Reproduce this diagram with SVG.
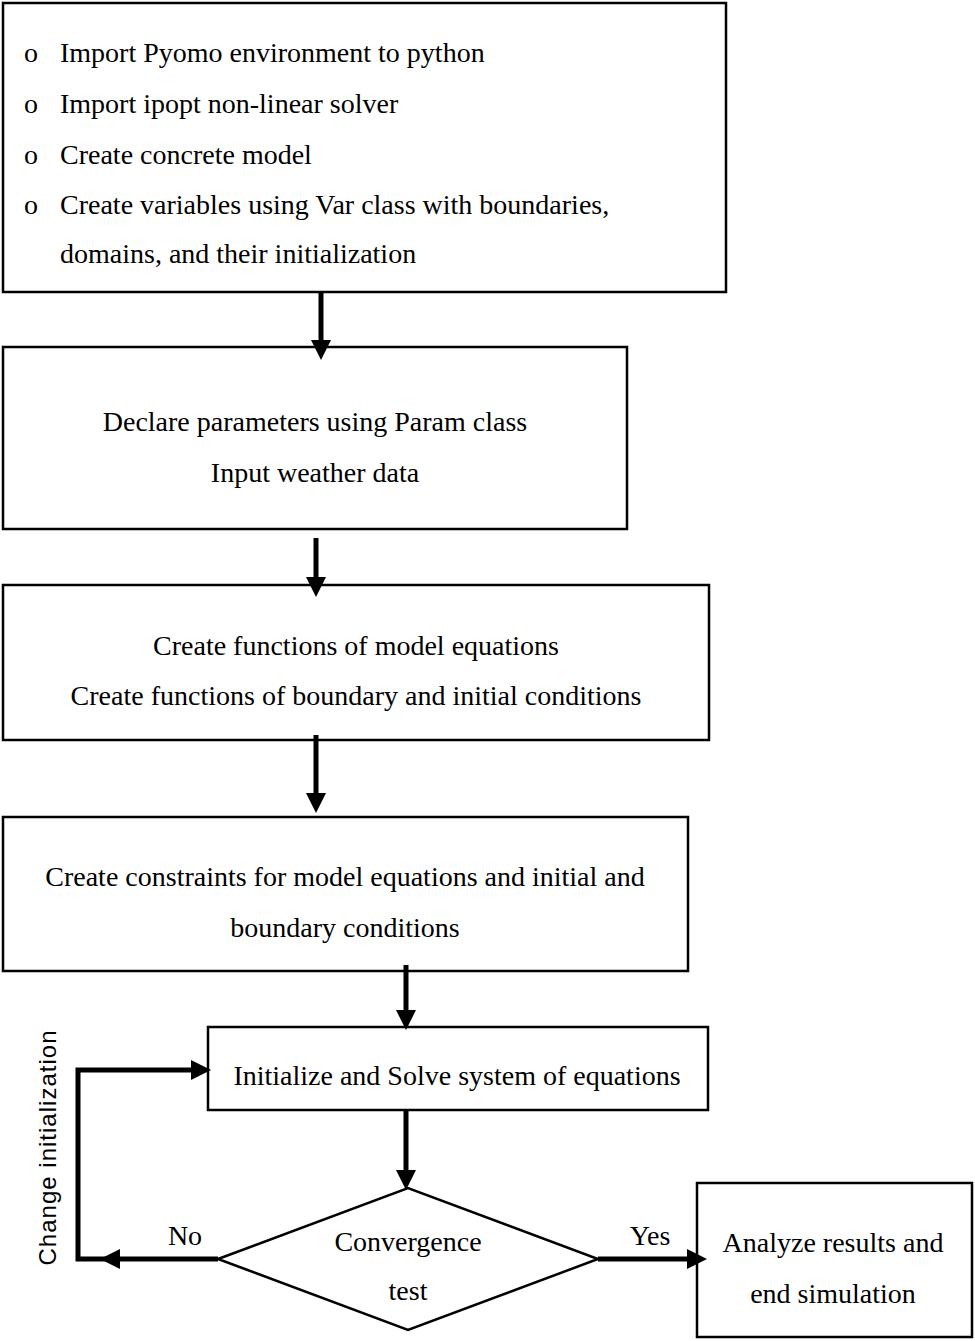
<svg xmlns="http://www.w3.org/2000/svg" width="975" height="1341" viewBox="0 0 975 1341">
<defs>
<style>
.box{fill:#fff;stroke:#000;stroke-width:2.5}
.t{font-family:"Liberation Serif","Times New Roman",serif;font-size:28px;fill:#000}
.c{text-anchor:middle}
.con{fill:none;stroke:#000;stroke-width:5}
.s{font-family:"Liberation Sans",Arial,sans-serif;font-size:24px;fill:#000}
</style>
<marker id="ah" markerUnits="userSpaceOnUse" markerWidth="20" markerHeight="20" refX="4" refY="10" orient="auto">
<path d="M0,0 L20,10 L0,20 z" fill="#000"/>
</marker>
</defs>
<rect width="975" height="1341" fill="#fff"/>
<g id="node1">
<rect class="box" x="3" y="3" width="723" height="289"/>
<text class="t" x="24" y="62">o</text>
<text class="t" x="60" y="62">Import Pyomo environment to python</text>
<text class="t" x="24" y="113">o</text>
<text class="t" x="60" y="113">Import ipopt non-linear solver</text>
<text class="t" x="24" y="164">o</text>
<text class="t" x="60" y="164">Create concrete model</text>
<text class="t" x="24" y="214">o</text>
<text class="t" x="60" y="214">Create variables using Var class with boundaries,</text>
<text class="t" x="60" y="263">domains, and their initialization</text>
</g>
<g id="node2">
<rect class="box" x="3" y="347" width="624" height="182"/>
<text class="t c" x="315" y="431">Declare parameters using Param class</text>
<text class="t c" x="315" y="482">Input weather data</text>
</g>
<g id="node3">
<rect class="box" x="3" y="585" width="706" height="155"/>
<text class="t c" x="356" y="655">Create functions of model equations</text>
<text class="t c" x="356" y="705">Create functions of boundary and initial conditions</text>
</g>
<g id="node4">
<rect class="box" x="3" y="817" width="685" height="154"/>
<text class="t c" x="345" y="886">Create constraints for model equations and initial and</text>
<text class="t c" x="345" y="937">boundary conditions</text>
</g>
<g id="node5">
<rect class="box" x="208" y="1027" width="500" height="83"/>
<text class="t c" x="457" y="1085">Initialize and Solve system of equations</text>
</g>
<g id="node6">
<polygon class="box" points="218,1259 408,1188 598,1259 408,1330"/>
<text class="t c" x="408" y="1251">Convergence</text>
<text class="t c" x="408" y="1300">test</text>
</g>
<g id="node7">
<rect class="box" x="697" y="1183" width="275" height="154"/>
<text class="t c" x="833" y="1252">Analyze results and</text>
<text class="t c" x="833" y="1303">end simulation</text>
</g>
<g id="connectors">
<path class="con" d="M321,293 V344" marker-end="url(#ah)"/>
<path class="con" d="M316,538 V581" marker-end="url(#ah)"/>
<path class="con" d="M316,735 V797" marker-end="url(#ah)"/>
<path class="con" d="M406,965 V1014" marker-end="url(#ah)"/>
<path class="con" d="M406,1110 V1174" marker-end="url(#ah)"/>
<path class="con" d="M598,1259 H691" marker-end="url(#ah)"/>
<path class="con" d="M218,1259 H116" marker-end="url(#ah)"/>
<path class="con" d="M116,1259 H78 V1070 H195" marker-end="url(#ah)"/>
<text class="t" x="185" y="1245" text-anchor="middle">No</text>
<text class="t" x="650" y="1245" text-anchor="middle">Yes</text>
<text class="s" transform="translate(56,1148) rotate(-90)" text-anchor="middle" textLength="235" lengthAdjust="spacing">Change initialization</text>
</g>
</svg>
